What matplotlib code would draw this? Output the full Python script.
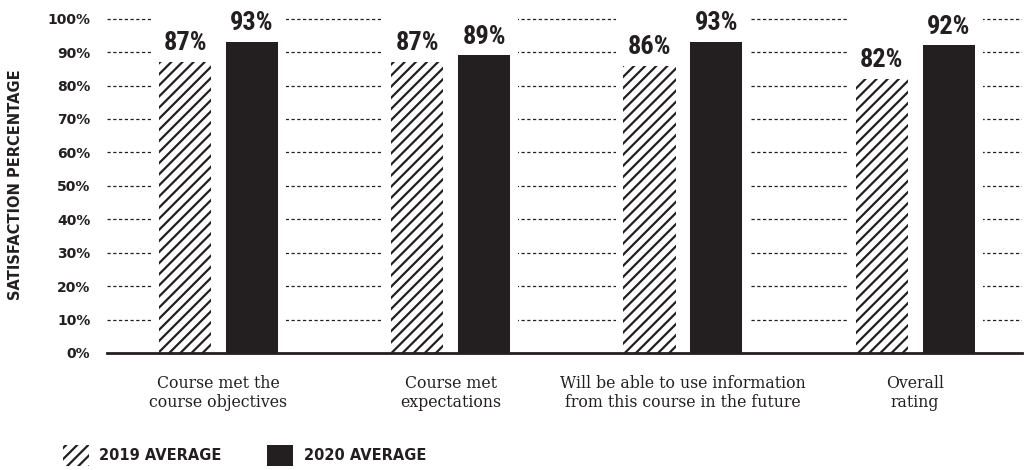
import numpy as np
import matplotlib.pyplot as plt
from matplotlib.patches import Patch
from matplotlib import font_manager

categories = ["Course met the\ncourse objectives",
              "Course met\nexpectations",
              "Will be able to use information\nfrom this course in the future",
              "Overall\nrating"]
avg_2019 = [87, 87, 86, 82]
avg_2020 = [93, 89, 93, 92]
yticks = [0, 10, 20, 30, 40, 50, 60, 70, 80, 90, 100]

ink = "#231f20"
plt.rcParams['hatch.linewidth'] = 1.6
plt.rcParams['hatch.color'] = ink

# narrowest installed family for the value labels
have = {f.name for f in font_manager.fontManager.ttflist}
narrow = [n for n in ("Liberation Sans Narrow", "DejaVu Sans Condensed",
                      "Roboto Condensed", "Open Sans Condensed",
                      "Noto Sans Condensed") if n in have]
lab_font = narrow[:1] + ["DejaVu Sans"]

fig = plt.figure(figsize=(10.27, 4.70), dpi=100)
ax = fig.add_axes([107/1027, 117/470, 915/1027, (353-2)/470])

x = np.arange(len(categories))
w = 0.224
off = 0.144

# dashed guide lines, hidden behind each group by a white block
for t in yticks[1:]:
    ax.axhline(t, color=ink, lw=0.9, ls=(0, (2.6, 2.0)), zorder=0)
for xi in x:
    ax.axvspan(xi - 0.29, xi + 0.29, color="white", zorder=1, lw=0)

b19 = ax.bar(x - off, avg_2019, w, color="white", edgecolor=ink, hatch="///",
             lw=0, zorder=2)
b20 = ax.bar(x + off, avg_2020, w, color=ink, lw=0, zorder=2)

for bars, vals in ((b19, avg_2019), (b20, avg_2020)):
    for r, v in zip(bars, vals):
        ax.annotate(f"{v}%", (r.get_x() + r.get_width()/2, v),
                    xytext=(0, 5), textcoords="offset points",
                    ha="center", va="bottom", fontsize=19,
                    fontweight="bold", fontstretch="condensed",
                    family=lab_font, color=ink, clip_on=False)

ax.set_xlim(-0.48, 3.46)
ax.set_ylim(0, 105)
ax.set_yticks(yticks)
ax.set_yticklabels([f"{t}%" for t in yticks], fontweight="bold", fontsize=10,
                   color=ink)
ax.set_xticks(x)
ax.set_xticklabels(categories, family="DejaVu Serif", fontsize=11.3,
                   color=ink, linespacing=1.1)
ax.tick_params(axis="y", length=0, pad=12)
ax.tick_params(axis="x", length=0, pad=16)

for s in ("top", "right", "left"):
    ax.spines[s].set_visible(False)
ax.spines["bottom"].set_color(ink)
ax.spines["bottom"].set_linewidth(2)
ax.spines["bottom"].set_zorder(3)

ax.set_ylabel("SATISFACTION PERCENTAGE", fontweight="bold", fontsize=10.5,
              color=ink)
ax.yaxis.set_label_coords(-0.092, 0.48)

handles = [Patch(facecolor="white", edgecolor=ink, hatch="///", lw=0),
           Patch(facecolor=ink, lw=0)]
fig.legend(handles, ["2019 AVERAGE", "2020 AVERAGE"], ncol=2, frameon=False,
           loc="upper left", bbox_to_anchor=(63/1027, 1 - 445/470),
           borderpad=0, borderaxespad=0, handlelength=1.8, handleheight=1.8,
           handletextpad=0.7, columnspacing=3.1,
           prop={"weight": "bold", "size": 10.5}, labelcolor=ink)

fig.savefig("out.png", dpi=100)
